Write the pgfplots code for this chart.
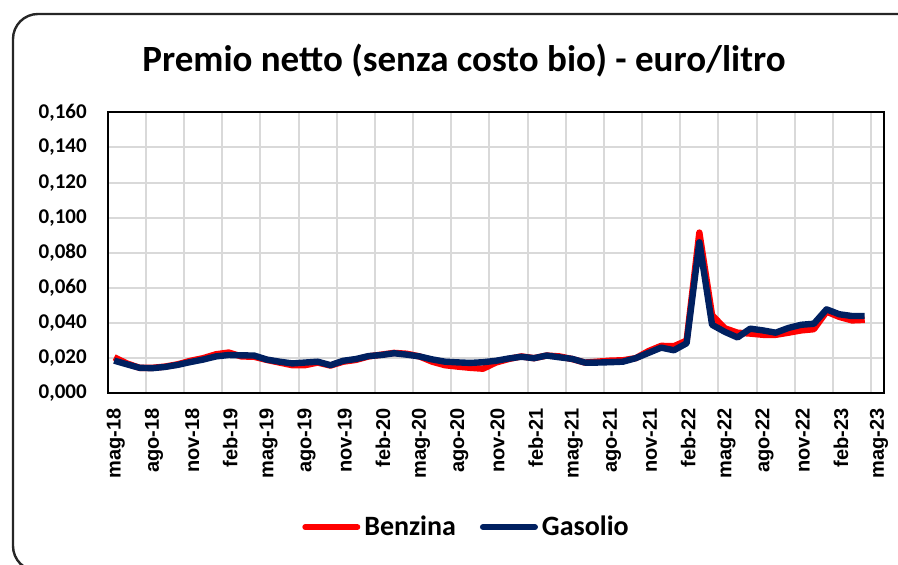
\documentclass[border=0pt]{standalone}
\usepackage{fontspec}
\setmainfont{Carlito}
\newfontfamily\xfont{Liberation Sans}
\usepackage{pgfplots}
\usepackage{pgfplotstable}
\pgfplotsset{compat=1.18}

\definecolor{benz}{RGB}{255,0,0}
\definecolor{gaso}{RGB}{0,32,96}
\definecolor{gridgray}{RGB}{217,217,217}

% month index (mag-18 = 0), points centred in the month
\pgfplotstableread{
x    benzina gasolio
0.5  0.0205  0.0186
1.5  0.0170  0.0165
2.5  0.0145  0.0145
3.5  0.0145  0.0143
4.5  0.0152  0.0150
5.5  0.0165  0.0162
6.5  0.0185  0.0178
7.5  0.0200  0.0192
8.5  0.0222  0.0210
9.5  0.0232  0.0218
10.5 0.0210  0.0216
11.5 0.0208  0.0215
12.5 0.0190  0.0192
13.5 0.0175  0.0180
14.5 0.0160  0.0170
15.5 0.0160  0.0175
16.5 0.0175  0.0180
17.5 0.0158  0.0160
18.5 0.0180  0.0185
19.5 0.0190  0.0195
20.5 0.0210  0.0212
21.5 0.0220  0.0218
22.5 0.0230  0.0228
23.5 0.0225  0.0220
24.5 0.0210  0.0210
25.5 0.0180  0.0193
26.5 0.0160  0.0180
27.5 0.0152  0.0176
28.5 0.0145  0.0173
29.5 0.0140  0.0177
30.5 0.0175  0.0185
31.5 0.0195  0.0198
32.5 0.0210  0.0208
33.5 0.0200  0.0200
34.5 0.0215  0.0215
35.5 0.0210  0.0205
36.5 0.0195  0.0196
37.5 0.0175  0.0175
38.5 0.0180  0.0175
39.5 0.0186  0.0177
40.5 0.0188  0.0180
41.5 0.0200  0.0200
42.5 0.0240  0.0230
43.5 0.0270  0.0260
44.5 0.0268  0.0245
45.5 0.0300  0.0285
46.5 0.0915  0.0860
47.5 0.0445  0.0390
48.5 0.0370  0.0350
49.5 0.0345  0.0318
50.5 0.0340  0.0368
51.5 0.0333  0.0358
52.5 0.0333  0.0345
53.5 0.0345  0.0372
54.5 0.0358  0.0390
55.5 0.0365  0.0396
56.5 0.0465  0.0478
57.5 0.0435  0.0450
58.5 0.0415  0.0440
59.5 0.0418  0.0440
}\premio

\begin{document}
\begin{tikzpicture}
\useasboundingbox (0,0) rectangle (449pt,282.5pt);
\clip (0,0) rectangle (449pt,282.5pt);
\draw[line width=1.2pt, black!85, rounded corners=12.5pt] (6.5pt,275.5pt) rectangle (462pt,-3pt);
\node[anchor=base, font=\bfseries\fontsize{18.5}{22}\selectfont] at (232pt,246.5pt) {Premio netto (senza costo bio) - euro/litro};
\begin{axis}[
    at={(53.9pt,85.85pt)}, anchor=south west,
    scale only axis,
    width=388pt, height=140.5pt,
    xmin=0, xmax=61,
    ymin=0, ymax=0.16,
    xtick={0,3,...,60},
    xticklabels={mag-18,ago-18,nov-18,feb-19,mag-19,ago-19,nov-19,feb-20,mag-20,ago-20,nov-20,feb-21,mag-21,ago-21,nov-21,feb-22,mag-22,ago-22,nov-22,feb-23,mag-23},
    ytick={0,0.02,...,0.161},
    major tick length=0pt,
    grid=major,
    major grid style={gridgray, line width=1pt},
    axis line style={black, line width=1pt},
    xticklabel style={xshift=4pt, yshift=-4pt, rotate=90, anchor=east, font=\xfont\bfseries\fontsize{10}{12}\selectfont},
    yticklabel style={xshift=-7pt, font=\bfseries\fontsize{10.5}{12}\selectfont,
        /pgf/number format/.cd, fixed, fixed zerofill, precision=3, use comma, assume math mode=true},
    scaled y ticks=false,
    legend columns=2,
    legend style={at={(0.4635,-0.476)}, anchor=center, draw=none, fill=none,
        font=\bfseries\fontsize{14}{16}\selectfont,
        /tikz/every even column/.append style={column sep=10pt}},
    legend image code/.code={\draw[#1, line width=3pt, line cap=round] (0pt,0pt) -- (26pt,0pt);},
]
\addplot[benz, line width=3.2pt, line join=round] table[x=x, y=benzina] {\premio};
\addlegendentry{Benzina}
\addplot[gaso, line width=3.2pt, line join=round] table[x=x, y=gasolio] {\premio};
\addlegendentry{Gasolio}
\end{axis}
\end{tikzpicture}
\end{document}
